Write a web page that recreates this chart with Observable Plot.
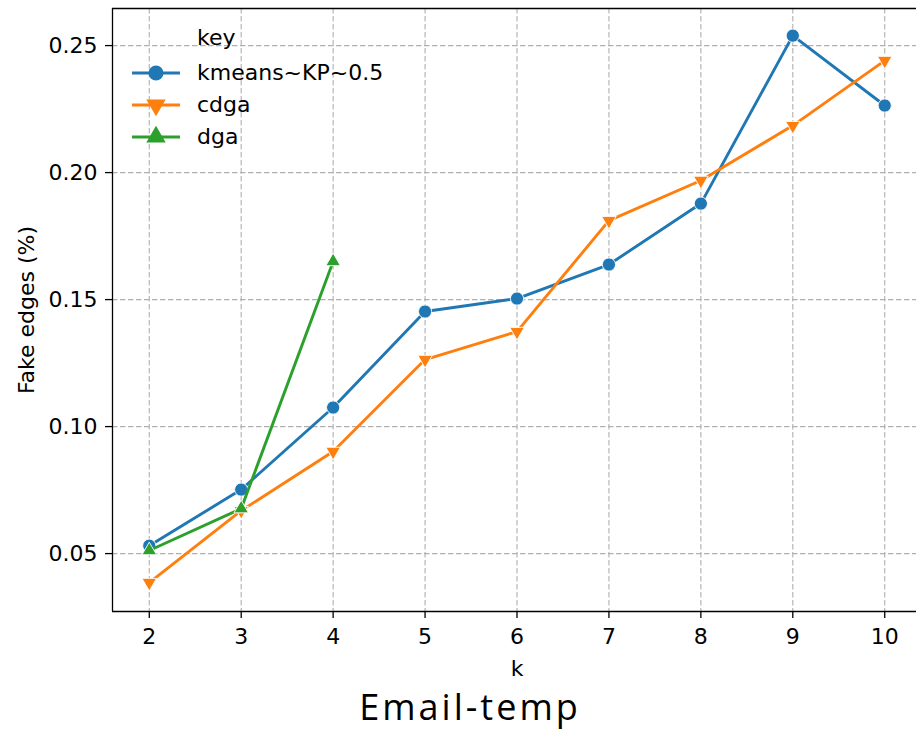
<!DOCTYPE html>
<html>
<head>
<meta charset="utf-8">
<script src="https://cdn.jsdelivr.net/npm/d3@7"></script>
<script src="https://cdn.jsdelivr.net/npm/@observablehq/plot@0.6"></script>
<style>
  html, body { margin: 0; padding: 0; background: #fff; overflow: hidden; }
  #wrap { position: relative; width: 916px; height: 732px; }
  #legend { position: absolute; left: 0; top: 0; font-family: "DejaVu Sans", sans-serif; font-size: 22px; color: #000; }
  #legend .row { position: absolute; display: flex; align-items: center; white-space: nowrap; height: 28px; line-height: 28px; }
  #title { position: absolute; left: 270px; width: 400px; top: 683px; text-align: center;
           font-family: "Open Sans", sans-serif; font-size: 36px; letter-spacing: 3px; line-height: 48px; color: #000; }
</style>
</head>
<body>
<div id="wrap">
  <div id="chart"></div>
  <div id="legend"></div>
  <div id="title">Email-temp</div>
</div>
<script>
const ks = [2, 3, 4, 5, 6, 7, 8, 9, 10];
const kmeans = [0.0531, 0.0752, 0.1075, 0.1453, 0.1504, 0.1638, 0.1878, 0.2539, 0.2264];
const cdga = [0.0386, 0.0669, 0.0902, 0.1264, 0.1374, 0.1811, 0.1969, 0.2185, 0.2441];
const dgaK = [2, 3, 4];
const dga = [0.0512, 0.0677, 0.1650];
const seriesNames = ["kmeans~KP~0.5", "cdga", "dga"];
const colors = ["#1f77b4", "#ff7f0e", "#2ca02c"];
const xTicks = [2, 3, 4, 5, 6, 7, 8, 9, 10];
const yTicks = [0.05, 0.10, 0.15, 0.20, 0.25];

const triangleDown = {
  draw(context, size) {
    const y = -Math.sqrt(size / (Math.sqrt(3) * 3));
    const s = Math.sqrt(3);
    context.moveTo(0, -y * 2);
    context.lineTo(-s * y, y);
    context.lineTo(s * y, y);
    context.closePath();
  }
};

const rows = [];
ks.forEach((k, i) => rows.push({key: seriesNames[0], k, v: kmeans[i]}));
ks.forEach((k, i) => rows.push({key: seriesNames[1], k, v: cdga[i]}));
dgaK.forEach((k, i) => rows.push({key: seriesNames[2], k, v: dga[i]}));
const bySeries = seriesNames.map(n => rows.filter(r => r.key === n));
const symbols = ["circle", triangleDown, "triangle"];
const radii = [6.6, 5.4, 5.4];

const yDomain = [0.0272, 0.2646];
const xDomain = [1.6, 10.4];

const marks = [
  Plot.gridX(xTicks, {stroke: "#b0b0b0", strokeOpacity: 1, strokeWidth: 1.1, strokeDasharray: "5.5,2.5"}),
  Plot.gridY(yTicks, {stroke: "#b0b0b0", strokeOpacity: 1, strokeWidth: 1.1, strokeDasharray: "5.5,2.5"}),
  Plot.axisX(xTicks, {tickSize: 7, tickPadding: 10, fontSize: 22, strokeWidth: 1.3, label: null, tickFormat: d => String(d)}),
  Plot.axisY(yTicks, {tickSize: 7, tickPadding: 8, fontSize: 22, strokeWidth: 1.3, label: null, tickFormat: d3.format(".2f")}),
  Plot.ruleX([xDomain[0]], {stroke: "#000", strokeWidth: 1.3}),
  Plot.ruleY([yDomain[0], yDomain[1]], {stroke: "#000", strokeWidth: 1.3}),
  Plot.text(["k"], {frameAnchor: "bottom", lineAnchor: "middle", textAnchor: "middle", dy: 57, fontSize: 22}),
  Plot.text(["Fake edges (%)"], {frameAnchor: "left", lineAnchor: "middle", textAnchor: "middle", dx: -86, rotate: -90, fontSize: 22})
];
bySeries.forEach((data, i) => {
  marks.push(Plot.line(data, {x: "k", y: "v", stroke: colors[i], strokeWidth: 2.9}));
  marks.push(Plot.dot(data, {x: "k", y: "v", fill: colors[i], stroke: "#fff", strokeWidth: 0.9, r: radii[i], symbol: () => symbols[i]}));
});

const chart = Plot.plot({
  width: 916,
  height: 685,
  marginLeft: 112,
  marginRight: -5,
  marginTop: 8,
  marginBottom: 74,
  style: {fontFamily: "DejaVu Sans, sans-serif", fontSize: "22px", color: "#000", background: "#fff", overflow: "visible"},
  x: {domain: xDomain},
  y: {domain: yDomain},
  marks
});
document.getElementById("chart").appendChild(chart);

// legend
const legend = document.getElementById("legend");
const keyLabel = document.createElement("div");
keyLabel.className = "row";
keyLabel.style.left = "197px";
keyLabel.style.top = (38 - 14) + "px";
keyLabel.textContent = "key";
legend.appendChild(keyLabel);
const legendY = [73, 105, 137];
const symPaths = [
  null,
  d3.symbol(triangleDown, Math.PI * 7.2 * 7.2)(),
  d3.symbol(d3.symbolTriangle, Math.PI * 7.2 * 7.2)()
];
seriesNames.forEach((name, i) => {
  const row = document.createElement("div");
  row.className = "row";
  row.style.left = "132px";
  row.style.top = (legendY[i] - 14) + "px";
  const svg = d3.create("svg").attr("width", 48).attr("height", 28).style("display", "block");
  svg.append("line").attr("x1", 0).attr("x2", 48).attr("y1", 14).attr("y2", 14).attr("stroke", colors[i]).attr("stroke-width", 2.9);
  if (i === 0) {
    svg.append("circle").attr("cx", 24).attr("cy", 14).attr("r", 7.5).attr("fill", colors[i]);
  } else {
    svg.append("path").attr("transform", "translate(24,14)").attr("d", symPaths[i]).attr("fill", colors[i]);
  }
  row.appendChild(svg.node());
  const t = document.createElement("span");
  t.style.marginLeft = "17px";
  t.textContent = name;
  row.appendChild(t);
  legend.appendChild(row);
});
</script>
</body>
</html>
